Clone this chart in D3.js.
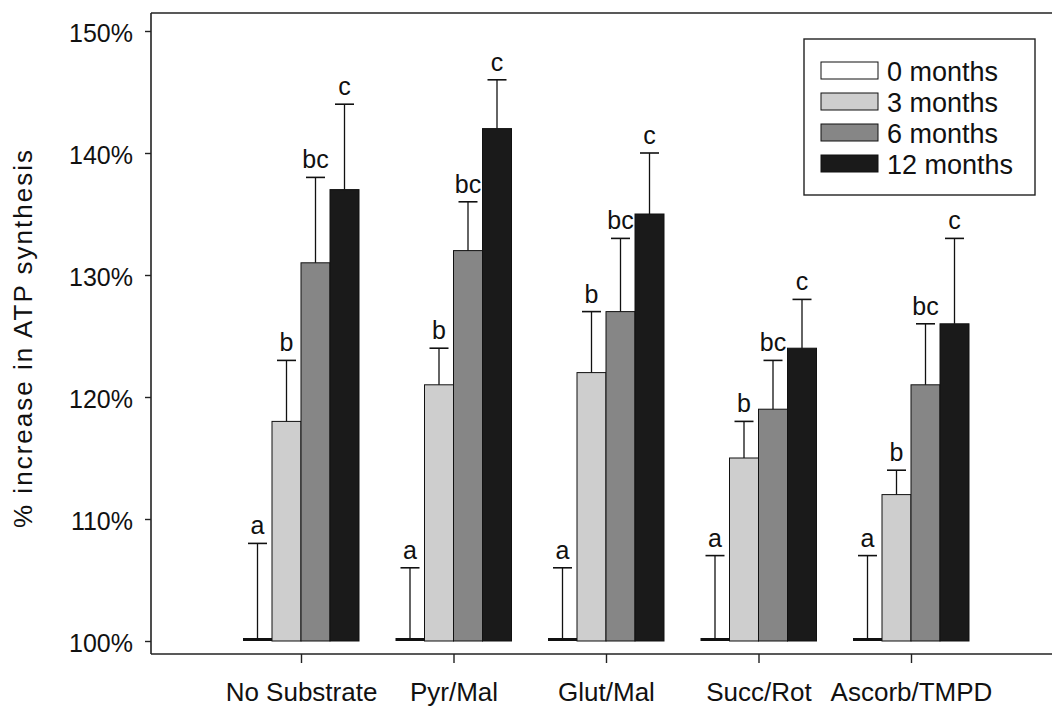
<!DOCTYPE html>
<html>
<head>
<meta charset="utf-8">
<script src="https://cdn.jsdelivr.net/npm/d3@7"></script>
<style>
  html, body { margin: 0; padding: 0; background: #fff; }
  svg { display: block; font-family: "Liberation Sans", Arial, Helvetica, sans-serif; }
</style>
</head>
<body>
<svg id="chart" width="1054" height="706"></svg>
<script>
// Substrates along the x axis
const categories = ["No Substrate", "Pyr/Mal", "Glut/Mal", "Succ/Rot", "Ascorb/TMPD"];
// Time points (one bar per time point in each group)
const series = ["0 months", "3 months", "6 months", "12 months"];

// Mean ATP synthesis (% of baseline) per time point, one value per substrate
const months0  = [100, 100, 100, 100, 100];
const months3  = [118, 121, 122, 115, 112];
const months6  = [131, 132, 127, 119, 121];
const months12 = [137, 142, 135, 124, 126];

// Upper end of each error bar
const err0  = [108, 106, 106, 107, 107];
const err3  = [123, 124, 127, 118, 114];
const err6  = [138, 136, 133, 123, 126];
const err12 = [144, 146, 140, 128, 133];

// Significance letters above each error bar
const letters0  = ["a", "a", "a", "a", "a"];
const letters3  = ["b", "b", "b", "b", "b"];
const letters6  = ["bc", "bc", "bc", "bc", "bc"];
const letters12 = ["c", "c", "c", "c", "c"];

const yTicks = [100, 110, 120, 130, 140, 150];

const values = [months0, months3, months6, months12];
const errors = [err0, err3, err6, err12];
const letters = [letters0, letters3, letters6, letters12];
const fills = ["#ffffff", "#cecece", "#868686", "#1a1a1a"];

const svg = d3.select("#chart");
const plotLeft = 151, plotRight = 1052, plotTop = 13, plotBottom = 654;
const FONT = 25;

const y = d3.scaleLinear().domain([100, 150]).range([641, 31]);
const x = d3.scalePoint().domain(categories).range([301, 911]);
const xs = d3.scaleBand().domain(series).range([-58, 58]).padding(0);

// Frame: left axis, top and bottom rules
svg.append("line").attr("x1", plotLeft).attr("x2", plotRight).attr("y1", plotTop).attr("y2", plotTop)
  .attr("stroke", "#222").attr("stroke-width", 1.6);
svg.append("line").attr("x1", plotLeft).attr("x2", plotRight).attr("y1", plotBottom).attr("y2", plotBottom)
  .attr("stroke", "#222").attr("stroke-width", 1.6);

// Y axis
const yAxis = svg.append("g").attr("transform", `translate(${plotLeft},0)`)
  .call(d3.axisLeft(y).tickValues(yTicks).tickFormat(d => d + "%").tickSize(6).tickPadding(12));
yAxis.select(".domain").attr("d", `M0,${plotTop}V${plotBottom}`).attr("stroke", "#222").attr("stroke-width", 1.6);
yAxis.selectAll(".tick line").attr("stroke", "#222").attr("stroke-width", 1.4);
yAxis.selectAll(".tick text").attr("font-size", FONT).attr("fill", "#111")
  .attr("font-family", "Liberation Sans, Arial, sans-serif").attr("dy", "0.42em");

// X axis (ticks only; the bottom rule is drawn above)
const xAxis = svg.append("g").attr("transform", `translate(0,${plotBottom})`)
  .call(d3.axisBottom(x).tickSize(9).tickPadding(20));
xAxis.select(".domain").remove();
xAxis.selectAll(".tick line").attr("stroke", "#222").attr("stroke-width", 1.4);
xAxis.selectAll(".tick text").attr("font-size", 26).attr("fill", "#111")
  .attr("font-family", "Liberation Sans, Arial, sans-serif");

// Y axis title
svg.append("text")
  .attr("transform", "translate(32,339) rotate(-90)")
  .attr("text-anchor", "middle")
  .attr("font-size", 26)
  .attr("fill", "#111")
  .attr("textLength", 378)
  .attr("lengthAdjust", "spacing")
  .text("% increase in ATP synthesis");

// Bars, error bars and letters
const groups = svg.append("g").selectAll("g")
  .data(categories)
  .join("g")
  .attr("transform", d => `translate(${x(d)},0)`);

series.forEach((s, si) => {
  const bx = xs(s), bw = xs.bandwidth();
  groups.each(function (cat, ci) {
    const g = d3.select(this);
    const v = values[si][ci], e = errors[si][ci];
    const top = y(v), base = y(100);
    if (base - top > 0.5) {
      g.append("rect")
        .attr("x", bx).attr("y", top).attr("width", bw).attr("height", base - top)
        .attr("fill", fills[si]).attr("stroke", "#111").attr("stroke-width", 1);
    } else {
      // flat bar at baseline: drawn as a heavy rule
      g.append("line")
        .attr("x1", bx).attr("x2", bx + bw).attr("y1", top - 1.5).attr("y2", top - 1.5)
        .attr("stroke", "#111").attr("stroke-width", 3);
    }
    const cx = bx + bw / 2;
    g.append("line").attr("x1", cx).attr("x2", cx).attr("y1", top).attr("y2", y(e))
      .attr("stroke", "#111").attr("stroke-width", 1.3);
    g.append("line").attr("x1", cx - 9.5).attr("x2", cx + 9.5).attr("y1", y(e)).attr("y2", y(e))
      .attr("stroke", "#111").attr("stroke-width", 1.6);
    g.append("text")
      .attr("x", cx).attr("y", y(e) - 9)
      .attr("text-anchor", "middle")
      .attr("font-size", FONT)
      .attr("fill", "#111")
      .text(letters[si][ci]);
  });
});

// Legend
const legend = svg.append("g");
legend.append("rect")
  .attr("x", 804).attr("y", 39).attr("width", 231).attr("height", 156)
  .attr("fill", "#fff").attr("stroke", "#222").attr("stroke-width", 1.4);
series.forEach((s, i) => {
  const ly = 62 + i * 31;
  legend.append("rect")
    .attr("x", 821).attr("y", ly).attr("width", 57).attr("height", 17)
    .attr("fill", fills[i]).attr("stroke", "#111").attr("stroke-width", 1);
  legend.append("text")
    .attr("x", 887).attr("y", ly + 8.5).attr("dy", "0.38em")
    .attr("font-size", 27).attr("fill", "#111")
    .text(s);
});
</script>
</body>
</html>
